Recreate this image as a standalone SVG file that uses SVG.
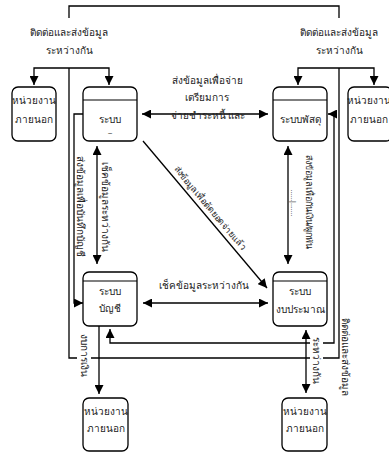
<svg xmlns="http://www.w3.org/2000/svg" width="389" height="452" viewBox="0 0 389 452">
<defs>
<style>
.box{fill:#fff;stroke:#000;stroke-width:1.3}
.hd{stroke:#000;stroke-width:1.1}
.ln{fill:none;stroke:#000;stroke-width:1.3}
text{font-family:"Liberation Sans","Noto Sans","DejaVu Sans",sans-serif;font-size:10px;fill:#222;text-anchor:middle;dominant-baseline:central}
</style>
<marker id="ah" viewBox="0 0 10 10" refX="10" refY="5" markerWidth="10" markerHeight="9" markerUnits="userSpaceOnUse" orient="auto-start-reverse">
<path d="M0,0 L10,5 L0,10 z" fill="#000"/>
</marker>
</defs>
<rect width="389" height="452" fill="#fff"/>
<g id="connectors">
<path class="ln" d="M69,18 V6 H339 V18"/>
<path class="ln" d="M69,68 V358 H339 V68"/>
<path class="ln" d="M34,85 V68 H109 V85" marker-start="url(#ah)" marker-end="url(#ah)"/>
<path class="ln" d="M298,85 V68 H374 V85" marker-start="url(#ah)" marker-end="url(#ah)"/>
<path class="ln" d="M142,114 H268" marker-start="url(#ah)" marker-end="url(#ah)"/>
<path class="ln" d="M97,146 V264" marker-start="url(#ah)" marker-end="url(#ah)"/>
<path class="ln" d="M83,114 H74 V303 H83" marker-end="url(#ah)"/>
<path class="ln" d="M143,141 L267,288" marker-end="url(#ah)"/>
<path class="ln" d="M143,303 H268" marker-start="url(#ah)" marker-end="url(#ah)"/>
<path class="ln" d="M288,146 V264" marker-start="url(#ah)" marker-end="url(#ah)"/>
<path class="ln" d="M110,329 V343 H334 V114 H328" marker-start="url(#ah)" marker-end="url(#ah)"/>
<rect x="77" y="336" width="14" height="40" fill="#fff"/>
<path class="ln" d="M99,326 V394" marker-end="url(#ah)"/>
<rect x="310" y="337" width="13" height="46" fill="#fff"/>
<path class="ln" d="M306,330 V393" marker-start="url(#ah)" marker-end="url(#ah)"/>
</g>
<g id="labels">
<text x="69" y="32">ติดต่อและส่งข้อมูล</text>
<text x="69" y="50">ระหว่างกัน</text>
<text x="339" y="32">ติดต่อและส่งข้อมูล</text>
<text x="339" y="50">ระหว่างกัน</text>
<text x="207" y="80">ส่งข้อมูลเพื่อจ่าย</text>
<text x="207" y="97">เตรียมการ</text>
<text x="208" y="115">จ่ายชำระหนี้ และ</text>
<text transform="translate(80,206) rotate(90)">ส่งข้อมูลเพื่อบันทึกบัญชี</text>
<text transform="translate(105,207) rotate(90)">เช็คข้อมูลระหว่างกัน</text>
<text transform="translate(309,202) rotate(90)" style="font-size:9px">ส่งข้อมูลเพื่อกันเงิน/ผูกพัน</text>
<text transform="translate(293,203) rotate(90)" style="font-size:7px">......|.......</text>
<text transform="translate(210,208) rotate(50)" style="font-size:9px">ส่งข้อมูลเพื่อตัดยอดจ่ายแล้ว</text>
<text x="204" y="285">เช็คข้อมูลระหว่างกัน</text>
<text transform="translate(84,355) rotate(90)">งบการเงิน</text>
<text transform="translate(316,360) rotate(90)">ระหว่างกัน</text>
<text transform="translate(345,357) rotate(90)">ติดต่อและส่งข้อมูล</text>
</g>
<g id="ext-top-left">
<rect class="box" x="12" y="87" width="44" height="54" rx="6"/>
<text x="34" y="100">หน่วยงาน</text>
<text x="34" y="119">ภายนอก</text>
</g>
<g id="sys-finance">
<rect class="box" x="83" y="87" width="54" height="54" rx="6"/>
<line class="hd" x1="83" y1="100" x2="137" y2="100"/>
<text x="110" y="119">ระบบ</text>
<text x="110" y="133" style="font-size:8px">~</text>
</g>
<g id="sys-supply">
<rect class="box" x="273" y="87" width="54" height="54" rx="6"/>
<line class="hd" x1="273" y1="100" x2="327" y2="100"/>
<text x="300" y="119">ระบบพัสดุ</text>
</g>
<g id="ext-top-right">
<rect class="box" x="348" y="87" width="44" height="54" rx="6"/>
<text x="368.5" y="100">หน่วยงาน</text>
<text x="369" y="119">ภายนอก</text>
</g>
<g id="sys-accounting">
<rect class="box" x="83" y="272" width="54" height="54" rx="6"/>
<line class="hd" x1="83" y1="281" x2="137" y2="281"/>
<text x="110" y="291">ระบบ</text>
<text x="110" y="308">บัญชี</text>
</g>
<g id="sys-budget">
<rect class="box" x="273" y="272" width="54" height="54" rx="6"/>
<line class="hd" x1="273" y1="281" x2="327" y2="281"/>
<text x="300" y="291">ระบบ</text>
<text x="300" y="309">งบประมาณ</text>
</g>
<g id="ext-bottom-left">
<rect class="box" x="83" y="398" width="45" height="53" rx="6"/>
<text x="105.5" y="411">หน่วยงาน</text>
<text x="105.5" y="428">ภายนอก</text>
</g>
<g id="ext-bottom-right">
<rect class="box" x="282" y="398" width="45" height="53" rx="6"/>
<text x="304.5" y="411">หน่วยงาน</text>
<text x="304.5" y="428">ภายนอก</text>
</g>
</svg>
